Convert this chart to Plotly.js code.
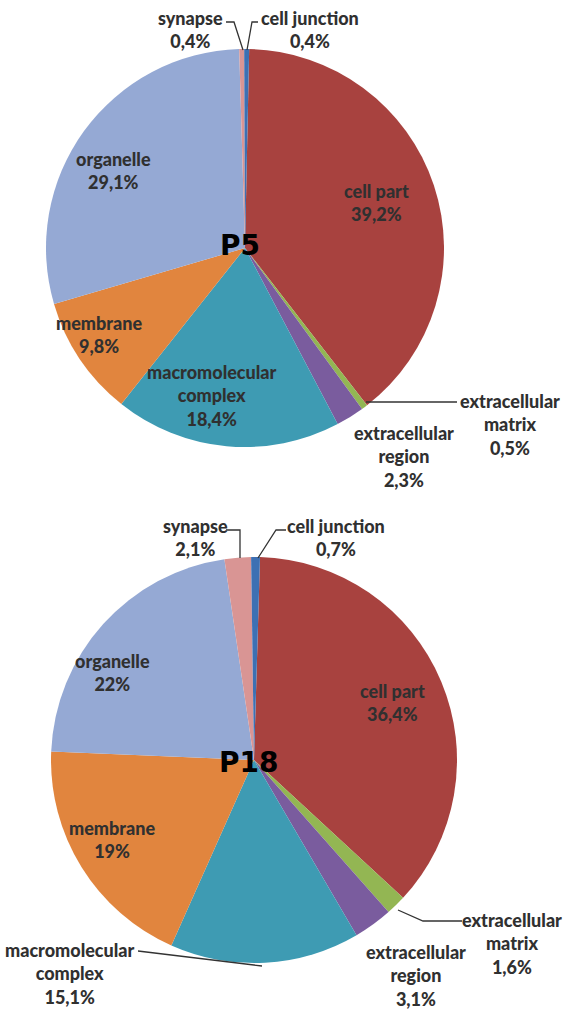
<!DOCTYPE html>
<html><head><meta charset="utf-8">
<script src="https://cdn.plot.ly/plotly-3.0.1.min.js"></script>
<style>html,body{margin:0;padding:0;background:#fff}</style>
</head><body><div id="chart" style="width:564px;height:1015px"></div>
<script>
// ---- data ----
const categories = ['cell part', 'extracellular matrix', 'extracellular region', 'macromolecular complex', 'membrane', 'organelle', 'synapse', 'cell junction'];
const valuesP5  = [39.2, 0.5, 2.3, 18.4, 9.8, 29.1, 0.4, 0.4];
const valuesP18 = [36.4, 1.6, 3.1, 15.1, 19, 22, 2.1, 0.7];
const pieNames = ['P5', 'P18'];

// ---- styling / layout ----
const colors = ['#A8423F', '#93B653', '#7A5C9E', '#3E9BB3', '#E1853E', '#95A9D4', '#D99594', '#3D70B3'];
const W = 564, H = 1015;
const fx = x => x / W, fy = y => 1 - y / H;
const pies = [
  {vals: valuesP5,  cx: 245, cy: 248, r: 199, rot: 1.2, name: [240, 245],
   labelPos: [[376,202],[510,424],[404,456],[212,395],[99,334],[113,170],[190,30],[310,30]],
   leaders: [[[226,22],[234,22],[243,50]], [[258,22],[252,22],[247,50]], [[457,402],[366,402]]]},
  {vals: valuesP18, cx: 254, cy: 760, r: 203, rot: 1.7, name: [249, 762],
   labelPos: [[392,702],[512,943],[416,975],[70,973],[112,839],[112,672],[195,537],[336,537]],
   leaders: [[[226,530],[240,530],[240,558]], [[286,530],[276,530],[258,558]],
             [[462,921],[423,921],[398,910]], [[138,951],[262,966]]]}
];

const fmt = v => String(v).replace('.', ',') + '%';
const disp = c => c.replace(/^(extracellular|macromolecular) /, '$1<br>');

const data = [], annotations = [], shapes = [];
pies.forEach((p, k) => {
  data.push({
    type: 'pie', labels: categories, values: p.vals, sort: false,
    direction: 'clockwise', rotation: p.rot, textinfo: 'none', hoverinfo: 'label+value',
    marker: {colors: colors, line: {width: 0}},
    domain: {x: [fx(p.cx - p.r), fx(p.cx + p.r)], y: [fy(p.cy + p.r), fy(p.cy - p.r)]},
    showlegend: false
  });
  categories.forEach((c, i) => {
    annotations.push({
      xref: 'paper', yref: 'paper', x: fx(p.labelPos[i][0]), y: fy(p.labelPos[i][1]),
      xanchor: 'center', yanchor: 'middle', showarrow: false, align: 'center',
      text: disp(c) + '<br>' + fmt(p.vals[i]),
      font: {family: 'Lato, "Open Sans", sans-serif', size: 18, weight: 900, color: '#303030'}
    });
  });
  annotations.push({
    xref: 'paper', yref: 'paper', x: fx(p.name[0]), y: fy(p.name[1]),
    xanchor: 'center', yanchor: 'middle', showarrow: false, text: pieNames[k],
    font: {family: '"DejaVu Sans", sans-serif', size: 28, weight: 'bold', color: '#000'}
  });
  p.leaders.forEach(pts => {
    shapes.push({
      type: 'path', xref: 'paper', yref: 'paper',
      path: pts.map((q, j) => (j ? 'L' : 'M') + fx(q[0]) + ',' + fy(q[1])).join(' '),
      line: {color: '#333', width: 1.3}
    });
  });
});

Plotly.newPlot('chart', data, {
  width: W, height: H, margin: {l: 0, r: 0, t: 0, b: 0, pad: 0},
  paper_bgcolor: '#fff', plot_bgcolor: '#fff', showlegend: false,
  annotations: annotations, shapes: shapes
}, {displayModeBar: false, staticPlot: true});
</script></body></html>
